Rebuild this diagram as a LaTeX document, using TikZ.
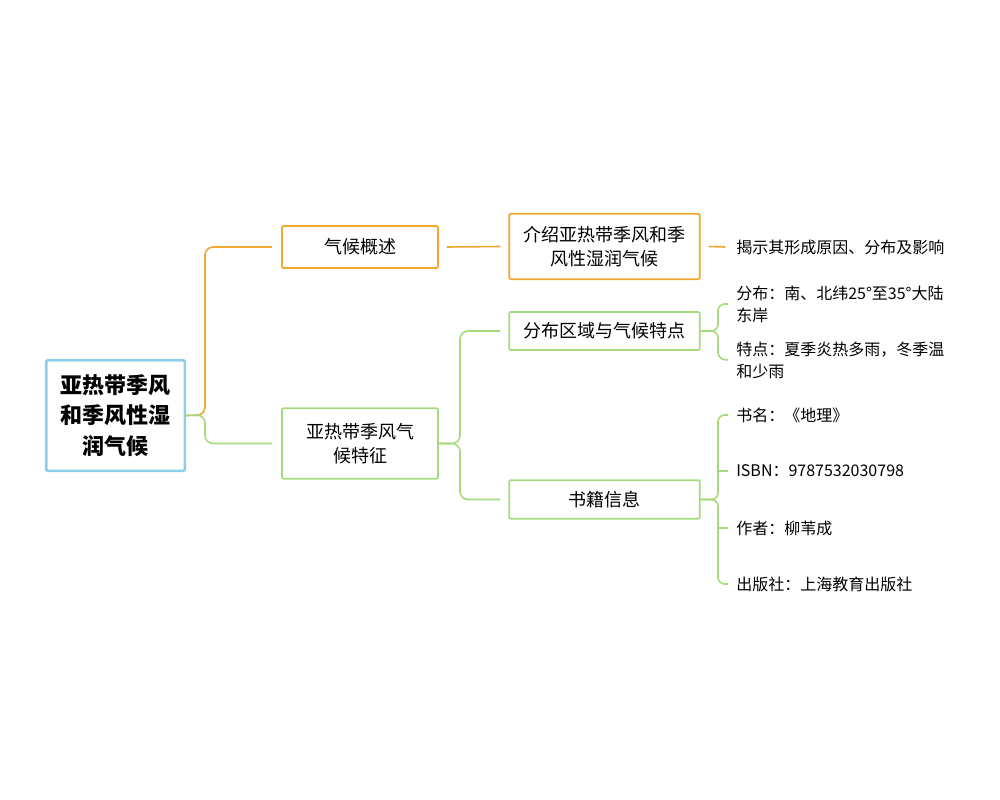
\documentclass[tikz,border=0pt]{standalone}
\usepackage{fontspec}
\setmainfont{Noto Sans CJK SC}
\usetikzlibrary{positioning}
\definecolor{rootblue}{HTML}{8ECFE8}
\definecolor{orangeline}{HTML}{F0A830}
\definecolor{greenline}{HTML}{A5DB7C}
\begin{document}
\begin{tikzpicture}[x=0.75pt, y=-0.75pt,
every box/.style={
    draw, line width=1.3pt, rounded corners=1pt, fill=white,
    align=center, inner sep=0pt, font=\fontsize{13.5pt}{18pt}\selectfont
  },
root box/.style={
    every box, draw=rootblue, line width=2pt,
    minimum width=104pt, minimum height=83pt,
    font=\bfseries\fontsize{16.5pt}{23pt}\selectfont
  },
orange box/.style={every box, draw=orangeline},
green box/.style={every box, draw=greenline},
leaf/.style={
    anchor=west, align=left, inner sep=0pt,
    font=\fontsize{12pt}{16.5pt}\selectfont
  },
orange link/.style={draw=orangeline, line width=1.2pt, rounded corners=6pt},
green link/.style={draw=greenline, line width=1.2pt, rounded corners=6pt}
]
\useasboundingbox (0,0) rectangle (1000,800);

\node [root box] (root) at (115.5,415.5) {亚热带季风\\和季风性湿\\润气候};

\node [orange box, minimum width=117pt, minimum height=31.5pt] (overview) at (360,247) {气候概述};
\node [green box, minimum width=117pt, minimum height=53pt] (feature) at (360,443.5) {亚热带季风气\\候特征};

\node [orange box, minimum width=143pt, minimum height=49pt] (intro) at (604.5,246.5) {介绍亚热带季风和季\\风性湿润气候};
\node [green box, minimum width=143pt, minimum height=28.5pt] (region) at (604.5,331) {分布区域与气候特点};
\node [green box, minimum width=143pt, minimum height=29pt] (book) at (604.5,499.5) {书籍信息};

\node [leaf] (reveal) at (736,247) {揭示其形成原因、分布及影响};
\node [leaf] (distrib) at (736,304) {分布：南、北纬25°至35°大陆\\东岸};
\node [leaf] (trait) at (736,360) {特点：夏季炎热多雨，冬季温\\和少雨};
\node [leaf] (title) at (736,415) {书名：《地理》};
\node [leaf] (isbn) at (736,471) {ISBN：9787532030798};
\node [leaf] (author) at (736,528) {作者：柳苇成};
\node [leaf] (press) at (736,584) {出版社：上海教育出版社};

% root to first level
\draw [orange link] (root.east) -- (205,415) -- (205,247) -- ([xshift=-7pt]overview.west);
\draw [green link] (root.east) -- (205,415) -- (205,443.5) -- ([xshift=-7pt]feature.west);

% second level
\draw [orange link] ([xshift=6pt]overview.east) -- ([xshift=-6pt]intro.west);
\draw [green link] (feature.east) -- (460,443.5) -- (460,331) -- ([xshift=-6pt]region.west);
\draw [green link] (feature.east) -- (460,443.5) -- (460,499.5) -- ([xshift=-6pt]book.west);

% leaves
\draw [orange link] ([xshift=6pt]intro.east) -- ([xshift=-8pt]reveal.west);
\draw [green link, rounded corners=5pt] (region.east) -- (718,331) -- (718,304) -- ([xshift=-6pt]distrib.west);
\draw [green link, rounded corners=5pt] (region.east) -- (718,331) -- (718,359) -- ([xshift=-6pt]trait.west);
\draw [green link, rounded corners=5pt] (book.east) -- (718,499.5) -- (718,415) -- ([xshift=-6pt]title.west);
\draw [green link, rounded corners=5pt] (book.east) -- (718,499.5) -- (718,584) -- ([xshift=-6pt]press.west);
\draw [green link] (718,471) -- ([xshift=-6pt]isbn.west);
\draw [green link] (718,528) -- ([xshift=-6pt]author.west);
\end{tikzpicture}
\end{document}
